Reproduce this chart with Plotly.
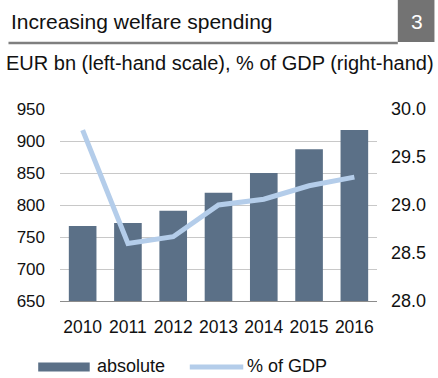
import plotly.graph_objects as go

years = ["2010", "2011", "2012", "2013", "2014", "2015", "2016"]
absolute_eur_bn = [767, 772, 791, 819, 850, 887, 917]
pct_of_gdp = [29.78, 28.60, 28.67, 29.00, 29.06, 29.20, 29.29]

BAR_COLOR = "#5b7087"
LINE_COLOR = "#b4cdea"
TEXT_COLOR = "#111111"
FONT = "Liberation Sans, Arial, sans-serif"

W, H = 438, 378
ML, MR, MT, MB = 60, 58, 109, 77

fig = go.Figure()
fig.add_trace(go.Bar(x=years, y=absolute_eur_bn, name="absolute",
                     marker=dict(color=BAR_COLOR, line=dict(width=0)),
                     width=0.61, yaxis="y"))
fig.add_trace(go.Scatter(x=years, y=pct_of_gdp, name="% of GDP", mode="lines",
                         line=dict(color=LINE_COLOR, width=5), yaxis="y2"))


# paper coordinates from pixel offsets measured from the top-left corner
def paper(xp, yp):
    return (xp - ML) / (W - ML - MR), (H - MB - yp) / (H - MT - MB)


shapes = []
annotations = []


def label(text, xp, yp, size, color=TEXT_COLOR, anchor="left"):
    x, y = paper(xp, yp)
    annotations.append(dict(text=text, xref="paper", yref="paper", x=x, y=y,
                            xanchor=anchor, yanchor="middle", showarrow=False,
                            font=dict(family=FONT, size=size, color=color)))


def hline(x0p, x1p, yp, color, width):
    x0, y = paper(x0p, yp)
    x1, _ = paper(x1p, yp)
    shapes.append(dict(type="line", xref="paper", yref="paper", x0=x0, y0=y, x1=x1, y1=y,
                       line=dict(color=color, width=width)))


# header: title, rule and number box
bx0, by0 = paper(401, 0)
bx1, by1 = paper(438, 42)
shapes.append(dict(type="rect", xref="paper", yref="paper", x0=bx0, y0=by1, x1=bx1, y1=by0,
                   fillcolor="#737373", line=dict(width=0), layer="above"))
hline(8, 401, 43, "#7f7f7f", 2.5)
label("Increasing welfare spending", 9, 21, 21)
label("3", 420, 21, 21, color="white", anchor="center")
label("EUR bn (left-hand scale), % of GDP (right-hand)", 3, 63, 20)

# legend
hline(38, 90, 367, BAR_COLOR, 9)
label("absolute", 95, 366, 18)
hline(191, 245, 367, LINE_COLOR, 5)
label("% of GDP", 247, 366, 18)

fig.update_layout(
    width=W, height=H,
    margin=dict(l=ML, r=MR, t=MT, b=MB, pad=0),
    paper_bgcolor="white", plot_bgcolor="white",
    showlegend=False,
    bargap=0.39,
    font=dict(family=FONT, size=17, color=TEXT_COLOR),
    xaxis=dict(type="category", showgrid=False, showline=True, linecolor="#8c8c8c",
               linewidth=1, ticks="", tickfont=dict(size=17.5), ticklabelstandoff=10),
    yaxis=dict(range=[650, 950], tickvals=[650, 700, 750, 800, 850, 900, 950],
               showgrid=True, gridcolor="#c8c8c8", gridwidth=1, zeroline=False,
               showline=False, ticks="", tickfont=dict(size=17), ticklabelstandoff=14),
    yaxis2=dict(range=[28, 30], tickvals=[28, 28.5, 29, 29.5, 30], tickformat=".1f",
                overlaying="y", side="right", showgrid=False, zeroline=False,
                showline=False, ticks="", tickfont=dict(size=18), ticklabelstandoff=13),
    shapes=shapes,
    annotations=annotations,
)

fig.write_html("out.html")
